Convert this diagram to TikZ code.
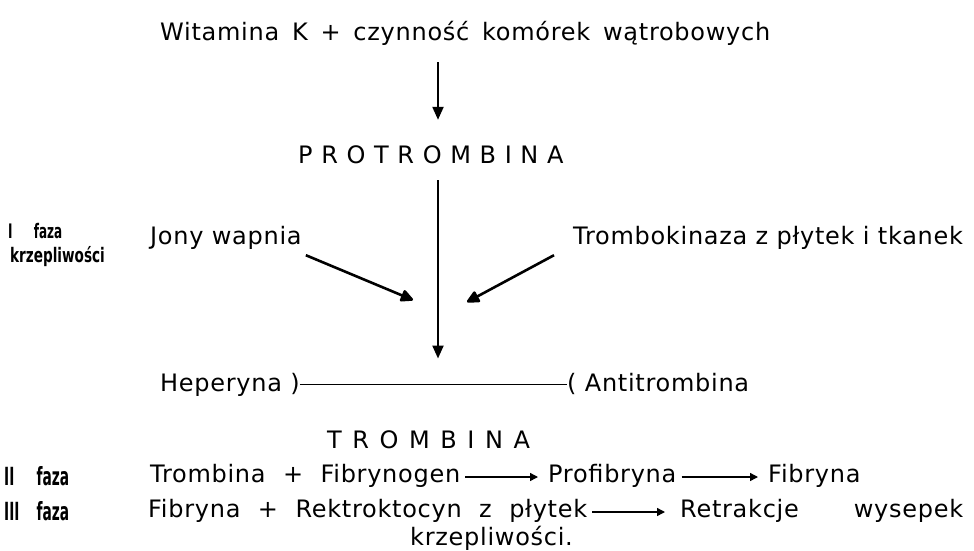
\documentclass[tikz,border=0pt]{standalone}
\usepackage{fontspec}
\usepackage{graphicx}
\usetikzlibrary{arrows.meta}
\setmainfont{DejaVu Sans}[LetterSpace=3]
\newfontfamily\capsfont{DejaVu Sans}[LetterSpace=36]
\newfontfamily\capsfontb{DejaVu Sans}[LetterSpace=44]
\newfontfamily\labfont{DejaVu Sans}
\newcommand{\lab}[3]{\scalebox{#1}[1]{\makebox[#2][s]{\labfont\bfseries #3}}}
\begin{document}
\begin{tikzpicture}[x=1pt,y=-1pt,
  txt/.style={inner sep=0pt, font=\fontsize{24}{28}\selectfont, text height=18pt, text depth=5pt},
  labtxt/.style={inner sep=0pt, font=\fontsize{20}{22}\selectfont},
  labtxtb/.style={inner sep=0pt, font=\fontsize{25}{27}\selectfont},
  varrow/.style={line width=2.2pt, -{Triangle[width=11pt,length=13pt]}},
  darrow/.style={line width=2.6pt, -{Triangle[width=13pt,length=14pt,round]}},
  harrow/.style={line width=1.4pt, -{Triangle[width=8pt,length=8pt]}},
  hline/.style={line width=1.4pt}]
\fill[white] (0,0) rectangle (974,551);
\useasboundingbox (0,0) rectangle (974,551);
% main column
\node[txt, anchor=base west] (title) at (160,41) {\makebox[610pt][s]{Witamina K + czynność komórek wątrobowych}};
\node[txt, anchor=base west] (prot) at (298,163) {\capsfont PROTROMBINA};
\coordinate (ax) at (438,0);
\draw[varrow, shorten <=16pt, shorten >=25pt] (ax |- title.south) -- (ax |- prot.north);
% phase I labels
\node[labtxt, anchor=base west] (f1a) at (8,238) {\lab{0.6}{90pt}{I faza}};
\node[labtxt, anchor=base west] (f1b) at (10,262) {\scalebox{0.68}[1]{\labfont\bfseries krzepliwości}};
% side factors
\node[txt, anchor=base west] (jony) at (150,244) {Jony wapnia};
\node[txt, anchor=base west] (tromk) at (573,244) {Trombokinaza z płytek i tkanek};
\coordinate (tipL) at (413,300);
\coordinate (tipR) at (467,302);
\draw[darrow] ([shift={(4pt,-6pt)}]jony.south east) -- (tipL);
\draw[darrow] ([shift={(-19pt,-6pt)}]tromk.south west) -- (tipR);
% heparin / antithrombin line
\node[txt, anchor=base west] (hep) at (160,391) {Heperyna )};
\node[txt, anchor=base west] (anti) at (567,391) {( Antitrombina};
\draw[hline] (hep.east) -- (anti.west);
\draw[varrow, shorten <=12pt, shorten >=26pt] (ax |- prot.south) -- (ax |- hep.east);
\node[txt, anchor=base west] (tromb) at (327,448) {\capsfontb TROMBINA};
% phase II
\node[labtxtb, anchor=base west] (f2) at (4,485) {\lab{0.55}{118pt}{II faza}};
\node[txt, anchor=base west] (r2a) at (150,482) {\makebox[310pt][s]{Trombina + Fibrynogen}};
\node[txt, anchor=base west] (r2b) at (548,482) {Profibryna};
\node[txt, anchor=base west] (r2c) at (768,482) {Fibryna};
\draw[harrow, shorten <=5pt, shorten >=10pt] ([yshift=5pt]r2a.base east) -- ([yshift=5pt]r2b.base west);
\draw[harrow, shorten <=5pt, shorten >=10pt] ([yshift=5pt]r2b.base east) -- ([yshift=5pt]r2c.base west);
% phase III
\node[labtxtb, anchor=base west] (f3) at (4,520) {\lab{0.55}{118pt}{III faza}};
\node[txt, anchor=base west] (r3a) at (148,517) {\makebox[439pt][s]{Fibryna + Rektroktocyn z płytek}};
\node[txt, anchor=base west] (r3b) at (680,517) {\makebox[283pt][s]{Retrakcje wysepek}};
\node[txt, anchor=base west] (r3c) at (410,545) {krzepliwości.};
\draw[harrow, shorten <=5pt, shorten >=15pt] ([yshift=5pt]r3a.base east) -- ([yshift=5pt]r3b.base west);
\end{tikzpicture}
\end{document}
